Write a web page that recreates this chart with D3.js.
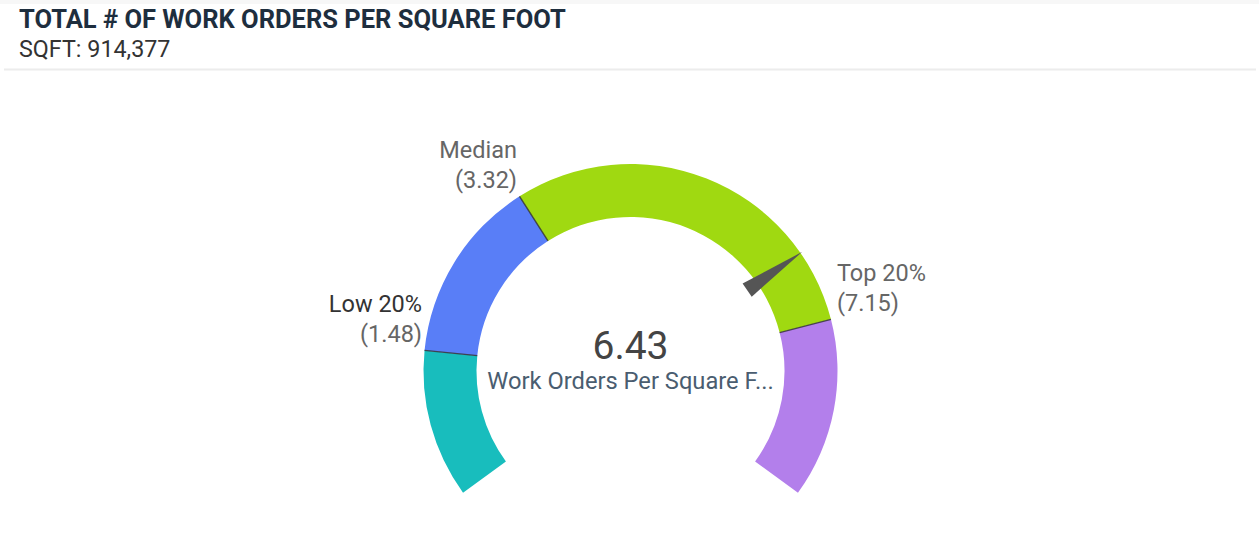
<!DOCTYPE html>
<html>
<head>
<meta charset="utf-8">
<script src="https://cdn.jsdelivr.net/npm/d3@7"></script>
<style>
  body { margin: 0; background: #fff; font-family: Roboto, "Noto Sans", sans-serif; }
</style>
</head>
<body>
<script>
var width = 1259, height = 542;

// gauge data
var value = 6.43;
var maxValue = 8.94;
var thresholds = [1.48, 3.32, 7.15];
var thresholdNames = ["Low 20%", "Median", "Top 20%"];
var bandColors = ["#18bdbd", "#597ef7", "#a0d911", "#b37feb"];
var valueLabel = "Work Orders Per Square F...";

var cx = 630.5, cy = 371,
    innerR = 154, outerR = 207;

var svg = d3.select("body")
    .append("svg")
    .attr("width", width)
    .attr("height", height);

// header
svg.append("rect")
    .attr("x", 0).attr("y", 0)
    .attr("width", width).attr("height", 4)
    .attr("fill", "#f7f7f7");

svg.append("text")
    .attr("x", 19).attr("y", 28)
    .attr("font-size", 25.5)
    .attr("font-weight", "bold")
    .attr("fill", "#1e2e3e")
    .text("TOTAL # OF WORK ORDERS PER SQUARE FOOT");

svg.append("text")
    .attr("x", 19).attr("y", 57)
    .attr("font-size", 23.3)
    .attr("fill", "#333")
    .text("SQFT: 914,377");

svg.append("line")
    .attr("x1", 4).attr("x2", 1256)
    .attr("y1", 69.5).attr("y2", 69.5)
    .attr("stroke", "#ececec")
    .attr("stroke-width", 2);

// gauge
var angle = d3.scaleLinear()
    .domain([0, maxValue])
    .range([-0.7 * Math.PI, 0.7 * Math.PI]);

var bounds = [0].concat(thresholds, [maxValue]);
var bands = d3.pairs(bounds).map((p, i) => ({ from: p[0], to: p[1], color: bandColors[i] }));

var arc = d3.arc()
    .innerRadius(innerR)
    .outerRadius(outerR)
    .startAngle(d => angle(d.from))
    .endAngle(d => angle(d.to));

var g = svg.append("g")
    .attr("transform", `translate(${cx}, ${cy})`);

g.selectAll("path.band")
    .data(bands)
    .join("path")
    .attr("class", "band")
    .attr("d", arc)
    .attr("fill", d => d.color);

function polar(v, r) {
    var a = angle(v);
    return [r * Math.sin(a), -r * Math.cos(a)];
}

// threshold ticks
g.selectAll("line.thr")
    .data(thresholds)
    .join("line")
    .attr("class", "thr")
    .attr("x1", d => polar(d, innerR)[0])
    .attr("y1", d => polar(d, innerR)[1])
    .attr("x2", d => polar(d, outerR)[0])
    .attr("y2", d => polar(d, outerR)[1])
    .attr("stroke", "#333")
    .attr("stroke-opacity", 0.85)
    .attr("stroke-width", 1.4);

// threshold labels
var lab = g.selectAll("text.thr")
    .data(thresholds)
    .join("text")
    .attr("class", "thr")
    .attr("font-size", 23.5)
    .attr("text-anchor", d => angle(d) < 0 ? "end" : "start")
    .attr("transform", d => {
        var p = polar(d, outerR);
        var dx = angle(d) < 0 ? -2.5 : 6;
        return `translate(${p[0] + dx}, ${p[1] - 8})`;
    });

lab.append("tspan")
    .attr("x", 0).attr("y", -30)
    .attr("fill", (d, i) => i === 0 ? "#333" : "#666")
    .text((d, i) => thresholdNames[i]);

lab.append("tspan")
    .attr("x", 0).attr("y", 0)
    .attr("fill", "#666")
    .text(d => `(${d.toFixed(2)})`);

// needle
var a = angle(value);
var baseR = 142, tipR = 209, halfW = 8;
var bx = baseR * Math.sin(a), by = -baseR * Math.cos(a);
var nx = Math.cos(a), ny = Math.sin(a);
var needle = [
    [bx - nx * halfW, by - ny * halfW],
    [tipR * Math.sin(a), -tipR * Math.cos(a)],
    [bx + nx * halfW, by + ny * halfW]
];
g.append("path")
    .attr("d", d3.line()(needle) + "Z")
    .attr("fill", "#555");

// center value
g.append("text")
    .attr("x", 0).attr("y", -12)
    .attr("text-anchor", "middle")
    .attr("font-size", 39)
    .attr("fill", "#444")
    .text(value.toFixed(2));

g.append("text")
    .attr("x", 0).attr("y", 18)
    .attr("text-anchor", "middle")
    .attr("font-size", 23.7)
    .attr("fill", "#4a5d70")
    .text(valueLabel);
</script>
</body>
</html>
